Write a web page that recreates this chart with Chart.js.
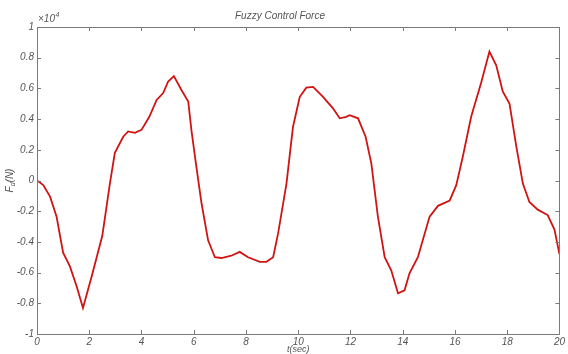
<!DOCTYPE html>
<html>
<head>
<meta charset="utf-8">
<script src="https://cdn.jsdelivr.net/npm/chart.js@4.4.1/dist/chart.umd.min.js"></script>
<style>
  html, body { margin: 0; padding: 0; background: #fff; }
  #wrap { width: 568px; height: 354px; position: relative; }
</style>
</head>
<body>
<div id="wrap"><canvas id="c"></canvas></div>
<script>
// Time samples (s) and fuzzy control force (in units of 10^4 N)
const timeSec = [0, 0.24, 0.5, 0.75, 1.0, 1.26, 1.52, 1.76, 2.1, 2.5, 2.79, 2.98, 3.3, 3.49, 3.75, 4.0, 4.3, 4.58, 4.83, 5.02, 5.24, 5.53, 5.79, 5.91, 6.1, 6.3, 6.55, 6.81, 7.06, 7.44, 7.76, 8.08, 8.53, 8.78, 9.04, 9.23, 9.55, 9.8, 10.06, 10.31, 10.57, 10.95, 11.33, 11.59, 11.84, 11.97, 12.29, 12.58, 12.8, 13.05, 13.31, 13.56, 13.82, 14.07, 14.26, 14.58, 15.03, 15.35, 15.8, 16.05, 16.3, 16.62, 17.0, 17.32, 17.58, 17.83, 18.09, 18.35, 18.6, 18.85, 19.17, 19.55, 19.81, 20];
const forceVal = [0, -0.03, -0.105, -0.236, -0.47, -0.56, -0.69, -0.83, -0.62, -0.36, -0.02, 0.18, 0.285, 0.32, 0.31, 0.33, 0.415, 0.525, 0.57, 0.645, 0.68, 0.59, 0.515, 0.33, 0.09, -0.15, -0.39, -0.5, -0.505, -0.49, -0.465, -0.5, -0.53, -0.53, -0.5, -0.345, -0.02, 0.35, 0.545, 0.605, 0.61, 0.545, 0.47, 0.405, 0.415, 0.425, 0.405, 0.285, 0.11, -0.235, -0.5, -0.585, -0.735, -0.715, -0.605, -0.5, -0.235, -0.165, -0.13, -0.03, 0.155, 0.415, 0.635, 0.84, 0.75, 0.58, 0.5, 0.22, -0.02, -0.14, -0.19, -0.225, -0.32, -0.48];

const titleText = 'Fuzzy Control Force';
const xAxisLabel = 't(sec)';
const yAxisMain = 'F';
const yAxisSub = 'd';
const yAxisTail = '(N)';
const expBase = '\u00d710';
const expPower = '4';

const AXIS_COLOR = '#7a7a7a';
const TEXT_COLOR = '#555555';
const FONT_FAMILY = '"Liberation Sans", Arial, sans-serif';

const points = timeSec.map((t, i) => ({ x: t, y: forceVal[i] }));

// Axis box with inward tick marks on all four sides, plus the y label and exponent
const boxPlugin = {
  id: 'boxPlugin',
  afterDraw(chart) {
    const ctx = chart.ctx;
    const a = chart.chartArea;
    const xs = chart.scales.x, ys = chart.scales.y;
    const tl = 4;
    ctx.save();
    ctx.strokeStyle = AXIS_COLOR;
    ctx.lineWidth = 1;
    ctx.beginPath();
    ctx.rect(Math.round(a.left) + 0.5, Math.round(a.top) + 0.5,
             Math.round(a.right - a.left), Math.round(a.bottom - a.top));
    ctx.stroke();
    ctx.beginPath();
    xs.ticks.forEach(t => {
      const px = Math.round(xs.getPixelForValue(t.value)) + 0.5;
      ctx.moveTo(px, a.bottom); ctx.lineTo(px, a.bottom - tl);
      ctx.moveTo(px, a.top); ctx.lineTo(px, a.top + tl);
    });
    ys.ticks.forEach(t => {
      const py = Math.round(ys.getPixelForValue(t.value)) + 0.5;
      ctx.moveTo(a.left, py); ctx.lineTo(a.left + tl, py);
      ctx.moveTo(a.right, py); ctx.lineTo(a.right - tl, py);
    });
    ctx.stroke();

    // Exponent marker above the y axis
    ctx.fillStyle = TEXT_COLOR;
    ctx.textBaseline = 'alphabetic';
    ctx.textAlign = 'left';
    ctx.font = 'italic 10px ' + FONT_FAMILY;
    const ex = a.left + 1, ey = a.top - 5;
    ctx.fillText(expBase, ex, ey);
    const w = ctx.measureText(expBase).width;
    ctx.font = 'italic 7px ' + FONT_FAMILY;
    ctx.fillText(expPower, ex + w + 0.5, ey - 5);

    // Rotated y-axis label with subscript
    ctx.translate(13, (a.top + a.bottom) / 2);
    ctx.rotate(-Math.PI / 2);
    ctx.font = 'italic 10px ' + FONT_FAMILY;
    const w1 = ctx.measureText(yAxisMain).width;
    ctx.font = 'italic 7px ' + FONT_FAMILY;
    const w2 = ctx.measureText(yAxisSub).width;
    ctx.font = 'italic 10px ' + FONT_FAMILY;
    const w3 = ctx.measureText(yAxisTail).width;
    let sx = -(w1 + w2 + w3) / 2;
    ctx.fillText(yAxisMain, sx, 0);
    ctx.font = 'italic 7px ' + FONT_FAMILY;
    ctx.fillText(yAxisSub, sx + w1, 2);
    ctx.font = 'italic 10px ' + FONT_FAMILY;
    ctx.fillText(yAxisTail, sx + w1 + w2, 0);
    ctx.restore();
  }
};

new Chart(document.getElementById('c'), {
  type: 'line',
  data: {
    datasets: [{
      data: points,
      borderColor: '#d01414',
      borderWidth: 1.8,
      pointRadius: 0,
      tension: 0,
      fill: false
    }]
  },
  options: {
    responsive: true,
    maintainAspectRatio: false,
    animation: false,
    layout: { padding: { left: 0, right: 8, top: 0, bottom: 0 } },
    plugins: {
      legend: { display: false },
      tooltip: { enabled: false },
      title: {
        display: true,
        text: titleText,
        color: TEXT_COLOR,
        font: { family: FONT_FAMILY, size: 10, style: 'italic', weight: 'normal', lineHeight: 1.2 },
        padding: { top: 10, bottom: 5 }
      }
    },
    scales: {
      x: {
        type: 'linear',
        min: 0, max: 20,
        grid: { display: false, drawTicks: false },
        border: { display: false },
        afterFit(scale) { scale.height = 20; },
        ticks: {
          stepSize: 2,
          padding: 3,
          maxRotation: 0,
          color: TEXT_COLOR,
          font: { family: FONT_FAMILY, size: 10, style: 'italic', lineHeight: 1 }
        },
        title: {
          display: true,
          text: xAxisLabel,
          color: TEXT_COLOR,
          padding: 0,
          font: { family: FONT_FAMILY, size: 9, style: 'italic', lineHeight: 1 }
        }
      },
      y: {
        min: -1, max: 1,
        grid: { display: false, drawTicks: false },
        border: { display: false },
        afterFit(scale) { scale.width = 37; },
        ticks: {
          stepSize: 0.2,
          padding: 3,
          color: TEXT_COLOR,
          font: { family: FONT_FAMILY, size: 10, style: 'italic' },
          callback: v => String(Number(Number(v).toFixed(1)))
        }
      }
    }
  },
  plugins: [boxPlugin]
});
</script>
</body>
</html>
